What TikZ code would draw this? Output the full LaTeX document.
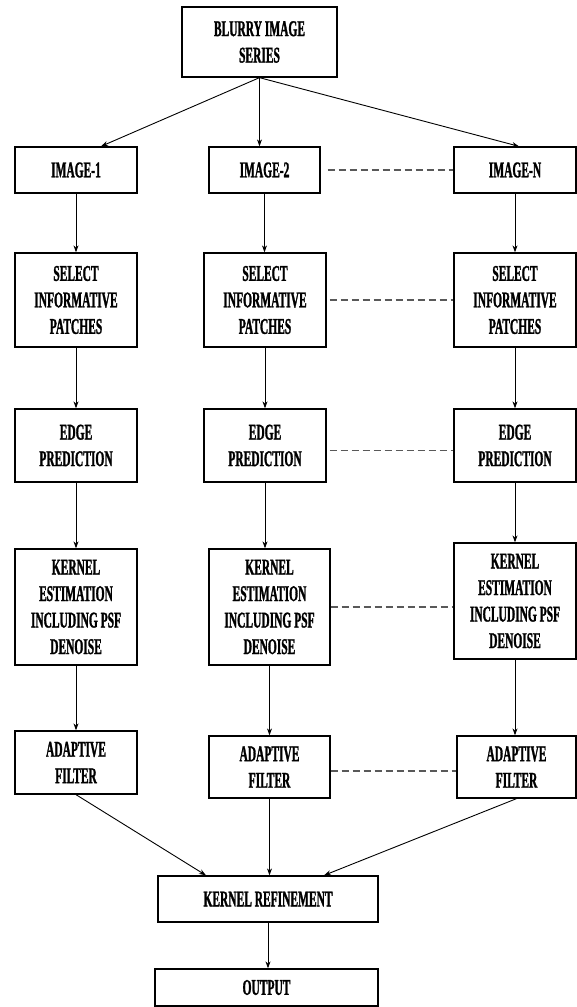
\documentclass[tikz,border=0pt]{standalone}
\usepackage{fontspec}
\newfontfamily\boxfont[FakeStretch=0.51,BoldFeatures={FakeBold=1.2}]{Liberation Serif}
\usetikzlibrary{arrows.meta}

\begin{document}
\begin{tikzpicture}[x=1pt,y=-1pt,
		box/.style={draw,line width=1.3pt,align=center,inner sep=0pt,
			font=\boxfont\bfseries\fontsize{22.5}{26.5}\selectfont},
		arr/.style={line width=0.9pt,-{Stealth[length=7pt,width=5pt]}},
		dots/.style={line width=1.3pt,gray!70!black,dash pattern=on 7pt off 4pt}]
		\useasboundingbox (0,0) rectangle (577,1007);
		
		\node[box,minimum width=155,minimum height=70] (blurry) at (259.5,42){BLURRY IMAGE\\SERIES};
		
		\node[box,minimum width=122,minimum height=46] (img1) at (76,170){IMAGE-1};
		\node[box,minimum width=111,minimum height=46] (img2) at (264.5,170){IMAGE-2};
		\node[box,minimum width=122,minimum height=46] (imgN) at (515,170){IMAGE-N};
		
		\node[box,minimum width=122,minimum height=94] (sel1) at (76,300){SELECT\\INFORMATIVE\\PATCHES};
		\node[box,minimum width=122,minimum height=94] (sel2) at (265,300){SELECT\\INFORMATIVE\\PATCHES};
		\node[box,minimum width=122,minimum height=94] (selN) at (515,300){SELECT\\INFORMATIVE\\PATCHES};
		
		\node[box,minimum width=122,minimum height=73] (edge1) at (76,445.5){EDGE\\PREDICTION};
		\node[box,minimum width=122,minimum height=73] (edge2) at (265,445.5){EDGE\\PREDICTION};
		\node[box,minimum width=122,minimum height=73] (edgeN) at (515,445.5){EDGE\\PREDICTION};
		
		\node[box,minimum width=122,minimum height=116] (kern1) at (76,607){KERNEL\\ESTIMATION\\INCLUDING PSF\\DENOISE};
		\node[box,minimum width=121,minimum height=116] (kern2) at (269.5,607){KERNEL\\ESTIMATION\\INCLUDING PSF\\DENOISE};
		\node[box,minimum width=122,minimum height=116] (kernN) at (515,601){KERNEL\\ESTIMATION\\INCLUDING PSF\\DENOISE};
		
		\node[box,minimum width=122,minimum height=63] (adapt1) at (76,762.5){ADAPTIVE\\FILTER};
		\node[box,minimum width=121,minimum height=62] (adapt2) at (269.5,767){ADAPTIVE\\FILTER};
		\node[box,minimum width=119,minimum height=62] (adaptN) at (516.5,767){ADAPTIVE\\FILTER};
		
		\node[box,minimum width=220,minimum height=46] (refine) at (268,899){KERNEL REFINEMENT};
		\node[box,minimum width=223,minimum height=37] (output) at (266.5,987.5){OUTPUT};
		
		% from the series to each image
		\draw[arr] (blurry.south) -- ([xshift=25pt]img1.north);
		\draw[arr] (blurry.south) -- (blurry.south |- img2.north);
		\draw[arr] (blurry.south) -- ([xshift=4pt]imgN.north);
		
		% columns
		\draw[arr] (img1.south) -- (img1.south |- sel1.north);
		\draw[arr] (sel1.south) -- (sel1.south |- edge1.north);
		\draw[arr] (edge1.south) -- (edge1.south |- kern1.north);
		\draw[arr] (kern1.south) -- (kern1.south |- adapt1.north);
		
		\draw[arr] (img2.south) -- (img2.south |- sel2.north);
		\draw[arr] (sel2.south) -- (sel2.south |- edge2.north);
		\draw[arr] (edge2.south) -- (edge2.south |- kern2.north);
		\draw[arr] (kern2.south) -- (kern2.south |- adapt2.north);
		
		\draw[arr] (imgN.south) -- (imgN.south |- selN.north);
		\draw[arr] (selN.south) -- (selN.south |- edgeN.north);
		\draw[arr] (edgeN.south) -- (edgeN.south |- kernN.north);
		\draw[arr] (kernN.south) -- (kernN.south |- adaptN.north);
		
		% into the refinement
		\draw[arr] (adapt1.south) -- ([xshift=-62pt]refine.north);
		\draw[arr] (adapt2.south) -- (adapt2.south |- refine.north);
		\draw[arr] (adaptN.south) -- ([xshift=56pt]refine.north);
		\draw[arr] (refine.south) -- (refine.south |- output.north);
		
		% dashed links between the columns
		\draw[dots,shorten <=7pt] (img2.east) -- (imgN.west);
		\draw[dots,shorten <=3pt] (sel2.east) -- (selN.west);
		\draw[dots,shorten <=3pt] ([yshift=-5pt]edge2.east) -- ([yshift=-5pt]edgeN.west);
		\draw[dots] (kern2.east) -- (kern2.east -| kernN.west);
		\draw[dots] ([yshift=-4pt]adapt2.east) -- ([yshift=-4pt]adaptN.west);
	\end{tikzpicture}
\end{document}
